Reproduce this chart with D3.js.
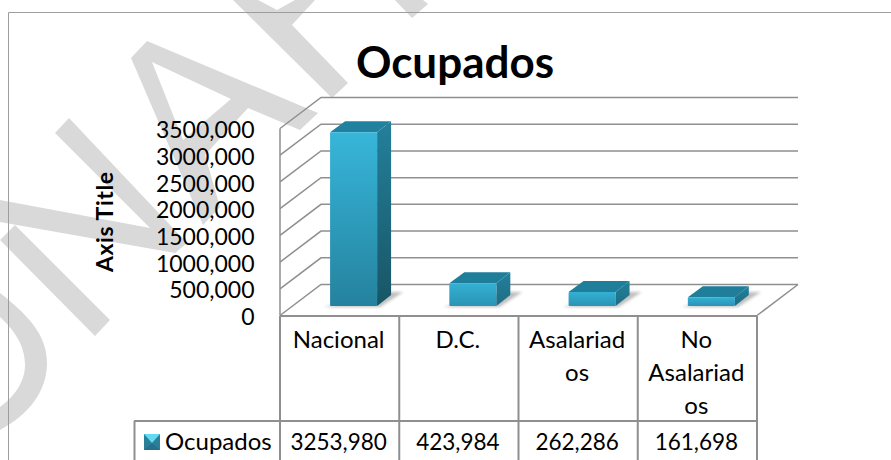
<!DOCTYPE html>
<html><head><meta charset="utf-8">
<script src="https://cdn.jsdelivr.net/npm/d3@7/dist/d3.min.js"></script>
<style>html,body{margin:0;padding:0;background:#fff;overflow:hidden}svg{display:block}text{font-family:Lato,"Open Sans",sans-serif;fill:#000}</style>
</head><body>
<svg id="c" width="891" height="460"></svg>
<script>
const chartTitle = "Ocupados";
const axisTitle = "Axis Title";
const seriesName = "Ocupados";
const categories = ["Nacional", "D.C.", "Asalariados", "No Asalariados"];
const categoryLines = [["Nacional"], ["D.C."], ["Asalariad", "os"], ["No", "Asalariad", "os"]];
const values = [3253980, 423984, 262286, 161698];
const valueLabels = ["3253,980", "423,984", "262,286", "161,698"];
const tickValues = [0, 500000, 1000000, 1500000, 2000000, 2500000, 3000000, 3500000];
const tickLabels = ["0", "500,000", "1000,000", "1500,000", "2000,000", "2500,000", "3000,000", "3500,000"];

const svg = d3.select("#c");
const defs = svg.append("defs");
function grad(id, a, b) {
  const g = defs.append("linearGradient").attr("id", id).attr("x1", 0).attr("y1", 0).attr("x2", 0).attr("y2", 1);
  g.append("stop").attr("offset", 0).attr("stop-color", a);
  g.append("stop").attr("offset", 1).attr("stop-color", b);
}
grad("front", "#37b6da", "#25829e");
grad("side", "#24809b", "#185565");
grad("frontSmall", "#34b0d4", "#2a94b4");
grad("sideSmall", "#23809b", "#1f6c84");
defs.append("filter").attr("id", "blur").append("feGaussianBlur").attr("stdDeviation", 1.6);

// watermark
const wm = svg.append("g").attr("fill", "#d9d9d9");
const wmPaths = [
  "M147,41 L318,113 L300,130 L248,108 L205,155 L220,207 L203,225 L131,58 Z",
  "M69,118 L187,243 L175,253 L0,222 L0,200 L150,228 L55,133 Z",
  "M0,240 L15,225 L110,320 L95,336 Z",
  "M0,293 C28,315 47,335 47,363 C47,392 28,415 0,430 L0,407 C14,397 25,382 25,365 C25,345 14,330 0,317 Z",
  "M233,0 L258,0 L277,10 L295,0 L315,0 L292,25 L348,83 L332,98 Z",
  "M395,0 L423,0 L428,4 L412,18 Z"
];
wm.selectAll("path").data(wmPaths).join("path").attr("d", d => d);
svg.append("path").attr("fill", "#fff").attr("d", "M152,62 L231,99 L183,140 Z");

// chart border
svg.append("path").attr("d", "M891,12.5 H8.5 V460").attr("fill", "none").attr("stroke", "#9d9d9d").attr("stroke-width", 1);

const dx = 41, dy = 31;
const y = d3.scaleLinear().domain([0, 3500000]).range([315.5, 128.5]);
const x = d3.scaleBand().domain(categories).range([280, 757]);
const gridColor = "#8f8f8f";

const grid = svg.append("g").attr("fill", "none").attr("stroke", gridColor).attr("stroke-width", 1.5);
grid.selectAll("path.g").data(tickValues).join("path").attr("class", "g")
  .attr("d", v => `M280,${y(v)} L${280 + dx},${y(v) - dy} H${757 + dx}`);
grid.append("path").attr("d", `M280,${y(3500000)} V${y(0)}`);
grid.append("path").attr("d", `M757,${y(0)} L${757 + dx},${y(0) - dy}`);

// bars
const bw = 47, bDx = 14, bDy = 11, barFloor = 306;
const barH = d3.scaleLinear().domain([0, 3500000]).range([0, y(0) - y(3500000)]);
const bars = svg.append("g").selectAll("g").data(categories).join("g")
  .attr("transform", c => `translate(${x(c) + x.bandwidth() * 0.42},0)`);
bars.append("path").attr("fill", "#8a8a8a").attr("opacity", 0.55).attr("filter", "url(#blur)")
  .attr("d", `M-6,${barFloor + 1} H${bw + 3} L${bw + 26},${barFloor - 14} H${bw + 8} Z`);
bars.append("path").attr("fill", (c, i) => i ? "#1f7f9b" : "#21829f")
  .attr("d", (c, i) => { const t = barFloor - barH(values[i]); return `M0,${t} L${bDx + 1},${t - bDy} H${bw + bDx} L${bw},${t} Z`; });
bars.append("path").attr("fill", (c, i) => i ? "url(#sideSmall)" : "url(#side)")
  .attr("d", (c, i) => { const t = barFloor - barH(values[i]); return `M${bw},${t} L${bw + bDx},${t - bDy} V${barFloor - bDy} L${bw},${barFloor} Z`; });
bars.append("rect").attr("fill", (c, i) => i ? "url(#frontSmall)" : "url(#front)").attr("rx", 1)
  .attr("width", bw)
  .attr("y", (c, i) => barFloor - barH(values[i]))
  .attr("height", (c, i) => barH(values[i]));

// table
const table = svg.append("g").attr("fill", "none").attr("stroke", gridColor).attr("stroke-width", 2);
table.append("path").attr("d", "M280,316 H757 M134,421 H757 M134.5,421 V460");
table.selectAll("path.v").data(categories).join("path").attr("class", "v")
  .attr("d", c => `M${x(c)},316 V460`);
table.append("path").attr("d", "M757,316 V460");

// axis
const axis = d3.axisLeft(y).tickValues(tickValues).tickSize(0).tickPadding(0)
  .tickFormat((d, i) => tickLabels[i]);
const ag = svg.append("g").attr("transform", "translate(254.5,1.5)").call(axis);
ag.select(".domain").remove();
ag.selectAll("text").attr("font-size", 23).attr("font-family", "Lato").attr("fill", "#000").attr("dy", "0.33em");

// text
svg.append("text").attr("x", 455).attr("y", 78).attr("text-anchor", "middle")
  .attr("font-size", 44).attr("font-weight", 700).text(chartTitle);
svg.append("text").attr("transform", "translate(113,222) rotate(-90)").attr("text-anchor", "middle")
  .attr("font-size", 23).attr("font-weight", 700).attr("textLength", 100).text(axisTitle);
const lineY = [348, 381, 414];
const cats = svg.append("g").attr("text-anchor", "middle");
categories.forEach((c, i) => {
  const cx = x(c) + x.bandwidth() / 2 - 1;
  categoryLines[i].forEach((l, j) => {
    cats.append("text").attr("x", cx).attr("y", lineY[j]).attr("font-size", 24).text(l);
  });
  cats.append("text").attr("x", cx).attr("y", 450).attr("font-size", 22.5).text(valueLabels[i]);
});
svg.append("text").attr("x", 165).attr("y", 450).attr("font-size", 24).text(seriesName);

// legend key
const key = svg.append("g").attr("transform", "translate(144,434)");
key.append("rect").attr("width", 16).attr("height", 16).attr("fill", "#2a8098");
key.append("path").attr("d", "M0,0 H16 L8,9 Z").attr("fill", "#63d9f2");
key.append("path").attr("d", "M0,16 H16 L8,9 Z").attr("fill", "#25708a");
</script>
</body></html>
